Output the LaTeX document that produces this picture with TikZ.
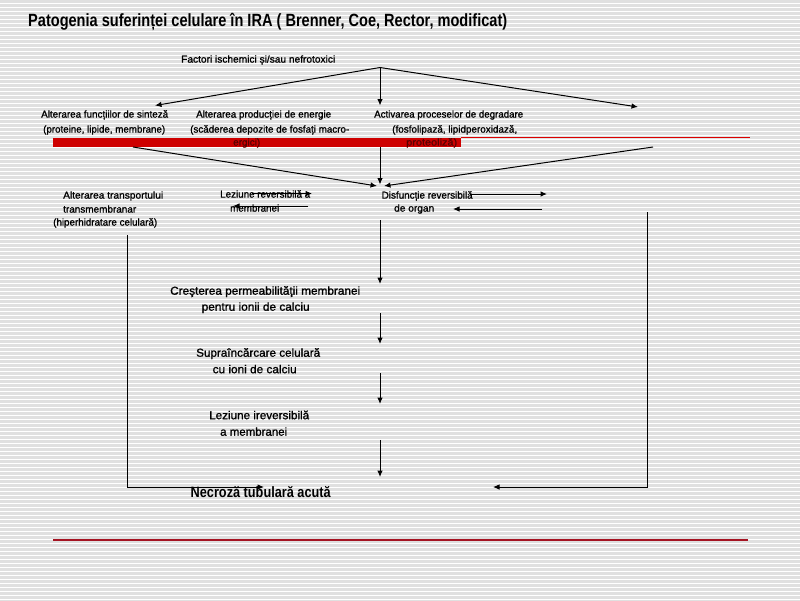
\documentclass[tikz,border=0pt]{standalone}
\usepackage{fontspec}
\usepackage{graphicx}
\setmainfont{Liberation Sans}
\newfontfamily\heavyfont[FakeBold=1.2]{Liberation Sans}
\usetikzlibrary{arrows.meta}
\definecolor{stripe}{RGB}{224,224,224}
\definecolor{barred}{RGB}{206,0,0}
\definecolor{thinred}{RGB}{220,0,0}
\definecolor{bartext}{RGB}{90,0,0}
\definecolor{linered}{RGB}{165,20,35}
\tikzset{
  txs/.style={font=\heavyfont\fontsize{10}{12}\selectfont, inner sep=0pt, anchor=base west},
  txr/.style={txs, text=bartext},
  txm/.style={font=\heavyfont\fontsize{11.5}{13}\selectfont, inner sep=0pt, anchor=base west},
  txn/.style={font=\fontsize{15}{17}\selectfont\bfseries, inner sep=0pt, anchor=base west},
  ttl/.style={font=\fontsize{17.7}{20}\selectfont\bfseries, inner sep=0pt, anchor=base west},
  arr/.style={-{Latex[length=6.5pt,width=5.5pt]}, line width=1pt, black},
  stripeline/.style={line width=2.2pt, stripe},
}
\newcommand\tline[6]{\node[#5] (#1) at (#2,#3) {\resizebox{#4pt}{\height}{#6}};}
\begin{document}
\begin{tikzpicture}[x=1pt,y=-1pt]
\useasboundingbox (0,0) rectangle (800,600);
\fill[white] (0,0) rectangle (800,600);
\foreach \yy in {0,4,...,600} \draw[stripeline] (0,\yy+1.5) -- (800,\yy+1.5);

% title
\tline{title}{28}{26.7}{479}{ttl}{Patogenia suferinței celulare în IRA ( Brenner, Coe, Rector, modificat)}

% red bar and lines
\fill[barred] (53,137.5) rectangle (461,146.8);
\fill[thinred] (461,136.6) rectangle (750,138.2);
\draw[linered, line width=1.1pt] (53,540) -- (748,540);

% top texts
\tline{f1}{181}{62.6}{154}{txs}{Factori ischemici și/sau nefrotoxici}
\tline{a11}{41}{117.6}{127}{txs}{Alterarea funcțiilor de sinteză}
\tline{a12}{43}{132.6}{122}{txs}{(proteine, lipide, membrane)}
\tline{a21}{196}{117.6}{135}{txs}{Alterarea producției de energie}
\tline{a22}{190}{132.6}{159}{txs}{(scăderea depozite de fosfați macro-}
\tline{a23}{233}{145.6}{27}{txr}{ergici)}
\tline{a31}{374}{117.6}{149}{txs}{Activarea proceselor de degradare}
\tline{a32}{392}{132.6}{125}{txs}{(fosfolipază, lipidperoxidază,}
\tline{a33}{406}{145.6}{51}{txr}{proteoliză)}

% second row texts
\tline{b11}{63}{198.6}{100}{txs}{Alterarea transportului}
\tline{b12}{63}{212.6}{73}{txs}{transmembranar}
\tline{b13}{53}{225.6}{104}{txs}{(hiperhidratare celulară)}
\tline{b21}{220}{197.6}{90}{txs}{Leziune reversibilă a}
\tline{b22}{230}{211.6}{49}{txs}{membranei}
\tline{b31}{381.5}{198.6}{91}{txs}{Disfuncție reversibilă}
\tline{b32}{394}{211.6}{40}{txs}{de organ}

% middle column texts
\tline{m11}{170}{294.7}{190}{txm}{Creşterea permeabilităţii membranei}
\tline{m12}{201.5}{310.7}{108}{txm}{pentru ionii de calciu}
\tline{m21}{196}{356.7}{124}{txm}{Supraîncărcare celulară}
\tline{m22}{212.5}{373.2}{84}{txm}{cu ioni de calciu}
\tline{m31}{209}{419.2}{100}{txm}{Leziune ireversibilă}
\tline{m32}{220}{435.7}{67}{txm}{a membranei}
\tline{nec}{190.5}{497.4}{140}{txn}{Necroză tubulară acută}

% coordinates
\coordinate (apex) at (380,67.5);
\coordinate (eL) at (155,105.5);
\coordinate (eM) at (380,105.5);
\coordinate (eR) at (638,107);
\coordinate (s1) at (133,147);
\coordinate (s2) at (380,147);
\coordinate (s3) at (653,147);
\coordinate (c1) at (377,186);
\coordinate (c2) at (380,184.5);
\coordinate (c3) at (384,186);
\coordinate (l1a) at (252,193.5);
\coordinate (l1b) at (312,193.5);
\coordinate (l2a) at (308,206);
\coordinate (l2b) at (233,206);
\coordinate (d1a) at (470,194);
\coordinate (d1b) at (547,194);
\coordinate (d2a) at (542,209);
\coordinate (d2b) at (453,209);
\coordinate (v0) at (380,220);
\coordinate (v1) at (380,284);
\coordinate (v2) at (380,313);
\coordinate (v3) at (380,344);
\coordinate (v4) at (380,373);
\coordinate (v5) at (380,404);
\coordinate (v6) at (380,440);
\coordinate (v7) at (380,477);
\coordinate (lt) at (127,235);
\coordinate (lb) at (127,487);
\coordinate (lh) at (264,487);
\coordinate (rt) at (647,212);
\coordinate (rb) at (647,487);
\coordinate (rh) at (493,487);

% connectors
\draw[arr] (apex) -- (eL);
\draw[arr] (apex) -- (eM);
\draw[arr] (apex) -- (eR);
\draw[arr] (s1) -- (c1);
\draw[arr] (s2) -- (c2);
\draw[arr] (s3) -- (c3);
\draw[arr] (l1a) -- (l1b);
\draw[arr] (l2a) -- (l2b);
\draw[arr] (d1a) -- (d1b);
\draw[arr] (d2a) -- (d2b);
\draw[arr] (v0) -- (v1);
\draw[arr] (v2) -- (v3);
\draw[arr] (v4) -- (v5);
\draw[arr] (v6) -- (v7);
\draw[arr] (lt) -- (lb) -- (lh);
\draw[arr] (rt) -- (rb) -- (rh);
\end{tikzpicture}
\end{document}
